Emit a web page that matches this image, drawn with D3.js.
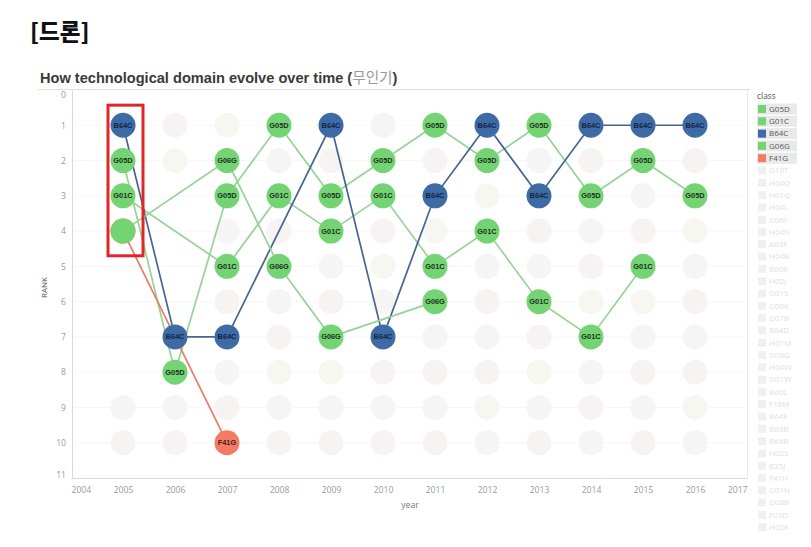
<!DOCTYPE html>
<html><head><meta charset="utf-8">
<script src="https://cdn.jsdelivr.net/npm/d3@7"></script>
<style>body{margin:0;background:#fff} svg{display:block}</style>
</head><body><svg id="c" width="811" height="547"></svg>
<script>
// ---- data ----
const classNames = ["G05D","G01C","B64C","G06G","F41G"];
const classColors = ["#74d474","#74d474","#3e6ba6","#74d474","#f47a66"];
const lineColors  = ["#96d396","#96d396","#46658f","#96d396","#ec7a68"];
const labelColors = ["#1c2e1d","#1c2e1d","#122544","#1c2e1d","#4a1a14"];

const g05dYears = [2005,2006,2007,2008,2009,2010,2011,2012,2013,2014,2015,2016];
const g05dRanks = [2,8,3,1,3,2,1,2,1,3,2,3];
const g01cYears = [2005,2007,2008,2009,2010,2011,2012,2013,2014,2015];
const g01cRanks = [3,5,3,4,3,5,4,6,7,5];
const b64cYears = [2005,2006,2007,2009,2010,2011,2012,2013,2014,2015,2016];
const b64cRanks = [1,7,7,1,7,3,1,3,1,1,1];
const g06gYears = [2005,2007,2008,2009,2011];
const g06gRanks = [4,2,5,7,6];
const f41gYears = [2005,2007];
const f41gRanks = [4,10];

// faded (non-highlighted) classes: year -> ranks occupied
const fadedYears = [2005,2006,2007,2008,2009,2010,2011,2012,2013,2014,2015,2016];
const fadedRanks = [[9,10],[1,2,9,10],[1,4,6,8,9],[2,4,6,7,8,9,10],[2,5,6,8,9,10],[1,4,5,6,8,9,10],
                    [2,4,7,8,9,10],[3,5,6,7,8,9,10],[2,4,5,7,8,9,10],[2,4,5,6,8,9,10],[3,4,6,7,8,9,10],[2,4,5,6,7,8,9,10]];
const fadedTints = ["#f6f5f5","#f8f3f3","#f7f7f2","#f5f5f6","#f8f3f3"];

const fadedLegend = ["G10T","H04Q","H01Q","H04L","G06F","H04N","A63F","H04B","B60R","H02J","G01S","G06K",
  "G07B","B64D","H01M","G08G","H04W","G01W","B60L","F16M","B64F","B63B","B64B","H02S","B25J","F41H","G01N","G08B","F03D","H02K"];

const xTicks = [2004,2005,2006,2007,2008,2009,2010,2011,2012,2013,2014,2015,2016,2017];
const yTicks = [0,1,2,3,4,5,6,7,8,9,10,11];

const title = "[드론]";
const chartTitle = "How technological domain evolve over time ";
const chartTitleKo = "무인기";

// ---- build ----
const series = [
  {years:g05dYears, ranks:g05dRanks},
  {years:g01cYears, ranks:g01cRanks},
  {years:b64cYears, ranks:b64cRanks},
  {years:g06gYears, ranks:g06gRanks},
  {years:f41gYears, ranks:f41gRanks}
].map((s,i)=>({name:classNames[i], color:classColors[i], lc:lineColors[i], tc:labelColors[i],
  pts:s.years.map((y,j)=>({year:y, rank:s.ranks[j]}))}));

const svg = d3.select("#c");
const x = d3.scaleLinear().domain([2004,2017]).range([71,747]);
const y = d3.scaleLinear().domain([0,11]).range([90,478]);
const R = 12.5;

svg.append("text").attr("x",30).attr("y",40).attr("font-family","'Noto Sans CJK KR'")
  .attr("font-weight",900).attr("font-size",22.5).attr("fill","#111").text(title);

const t = svg.append("text").attr("x",40).attr("y",83).attr("font-family","'Liberation Sans', Arial, sans-serif")
  .attr("font-weight",700).attr("font-size",14.6).attr("fill","#3a3a3a");
t.append("tspan").text(chartTitle + "(");
t.append("tspan").attr("font-family","'Noto Sans CJK KR'").attr("font-weight",400).attr("fill","#9a9a9a").text(chartTitleKo);
t.append("tspan").text(")");

svg.append("line").attr("x1",38).attr("x2",750).attr("y1",89.5).attr("y2",89.5).attr("stroke","#dedede");

// gridlines
svg.append("g").selectAll("line").data(yTicks.slice(1,-1)).join("line")
  .attr("x1",72).attr("x2",747).attr("y1",d=>y(d)).attr("y2",d=>y(d)).attr("stroke","#f7f7f7");

// axes
const xa = svg.append("g").attr("transform",`translate(0,${y(11)})`).call(d3.axisBottom(x).tickValues(xTicks).tickFormat(d3.format("d")).tickSize(0).tickPadding(9));
xa.select(".domain").attr("stroke","#d8d8d8");
xa.selectAll("text").attr("font-family","'Open Sans', sans-serif").attr("font-size",8.6).attr("fill","#999")
  .attr("text-anchor",(d,i)=> i===0?"start":(i===xTicks.length-1?"end":"middle"));
const ya = svg.append("g").attr("transform","translate(72,0)").call(d3.axisLeft(y).tickValues(yTicks).tickSize(0).tickPadding(6));
ya.select(".domain").attr("stroke","#d8d8d8");
ya.selectAll("text").attr("font-family","'Open Sans', sans-serif").attr("font-size",8.6).attr("fill","#999")
  .attr("dy",(d,i)=> i===0?"0.85em":(i===yTicks.length-1?"-0.1em":"0.32em"));
svg.append("line").attr("x1",747.5).attr("x2",747.5).attr("y1",90).attr("y2",478).attr("stroke","#e8e8e8");

svg.append("text").attr("transform",`translate(47,${y(5.6)}) rotate(-90)`).attr("text-anchor","middle")
  .attr("font-family","'Open Sans', sans-serif").attr("font-size",8).attr("fill","#555").text("RANK");
svg.append("text").attr("x",410).attr("y",508).attr("text-anchor","middle")
  .attr("font-family","'Open Sans', sans-serif").attr("font-size",8.6).attr("fill","#777").text("year");

// faded nodes
const faded = [];
fadedYears.forEach((yr,i)=>fadedRanks[i].forEach((r,k)=>faded.push({year:yr, rank:r, c:fadedTints[(i+k)%fadedTints.length]})));
svg.append("g").selectAll("circle").data(faded).join("circle")
  .attr("cx",d=>x(d.year)).attr("cy",d=>y(d.rank)).attr("r",R).attr("fill",d=>d.c);

// lines
const line = d3.line().x(d=>x(d.year)).y(d=>y(d.rank));
svg.append("g").selectAll("path").data(series).join("path")
  .attr("d",d=>line(d.pts)).attr("fill","none").attr("stroke",d=>d.lc).attr("stroke-width",1.7);

// nodes (draw F41G first so overlapping G06G is on top)
const order = [4,3,2,1,0];
const nodes = [];
order.forEach(i=>series[i].pts.forEach(p=>nodes.push({...p, s:series[i]})));
const key = d=>d.year+"_"+d.rank;
const counts = d3.rollup(nodes, v=>v.length, key);
const ng = svg.append("g");
ng.selectAll("circle").data(nodes).join("circle")
  .attr("cx",d=>x(d.year)).attr("cy",d=>y(d.rank)).attr("r",R).attr("fill",d=>d.s.color);
ng.selectAll("text").data(nodes.filter(d=>counts.get(key(d))===1)).join("text")
  .attr("x",d=>x(d.year)).attr("y",d=>y(d.rank)).attr("dy","0.35em").attr("text-anchor","middle")
  .attr("font-family","'Liberation Sans', Arial, sans-serif").attr("font-weight",700).attr("font-size",7.4).attr("fill",d=>d.s.tc)
  .text(d=>d.s.name);

// red highlight box around 2005
svg.append("rect").attr("x",x(2005)-15).attr("y",y(0.43)).attr("width",35).attr("height",y(4.7)-y(0.43))
  .attr("fill","none").attr("stroke","#e0262a").attr("stroke-width",3);

// legend
const lg = svg.append("g").attr("font-family","'Open Sans', sans-serif");
lg.append("text").attr("x",757).attr("y",99).attr("font-size",8.4).attr("fill","#555").text("class");
const legendItems = classNames.map((n,i)=>({n, c:classColors[i], hi:true})).concat(fadedLegend.map(n=>({n, c:"#f0f0f0", hi:false})));
const ly = i=>109 + i*12.3;
lg.selectAll("rect.bg").data(legendItems.filter(d=>d.hi)).join("rect").attr("class","bg")
  .attr("x",757).attr("y",(d,i)=>ly(i)-5.5).attr("width",40).attr("height",11).attr("fill","#e9e9e9");
lg.selectAll("rect.sw").data(legendItems).join("rect").attr("class","sw")
  .attr("x",758).attr("y",(d,i)=>ly(i)-4).attr("width",8).attr("height",8).attr("fill",d=>d.c);
lg.selectAll("text.it").data(legendItems).join("text").attr("class","it")
  .attr("x",769).attr("y",(d,i)=>ly(i)).attr("dy","0.35em").attr("font-size",8)
  .attr("fill",d=>d.hi?"#555":"#e0e0e0").text(d=>d.n);
</script></body></html>
